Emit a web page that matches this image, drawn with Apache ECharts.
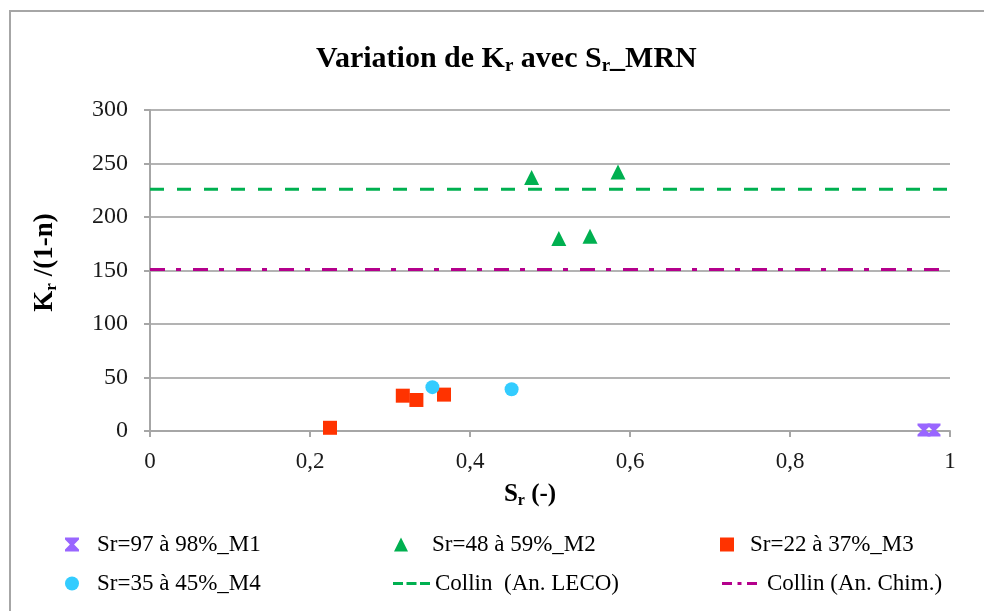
<!DOCTYPE html>
<html>
<head>
<meta charset="utf-8">
<script src="https://cdn.jsdelivr.net/npm/echarts@6/dist/echarts.min.js"></script>
<style>html,body{margin:0;padding:0;background:#fff;}#c{width:984px;height:611px;}</style>
</head>
<body>
<div id="c"></div>
<script>
// ---- data ----
const m1X = [0.9675, 0.98];
const m1Y = [1, 1];
const m2X = [0.477, 0.511, 0.55, 0.585];
const m2Y = [237, 180, 182, 242];
const m3X = [0.225, 0.316, 0.333, 0.3675];
const m3Y = [3, 33, 29, 34];
const m4X = [0.353, 0.452];
const m4Y = [41, 39];
const lineSpan = [0, 1];
const collinLeco = 226;
const collinChim = 151;
const names = ['Sr=97 à 98%_M1', 'Sr=48 à 59%_M2', 'Sr=22 à 37%_M3', 'Sr=35 à 45%_M4', 'Collin  (An. LECO)', 'Collin (An. Chim.)'];

const zip = (xs, ys) => xs.map((x, i) => [x, ys[i]]);
const FONT = 'Liberation Serif';
const hourglass = 'path://M0,0 L10,0 L10,1.5 L6.5,5 L10,8.5 L10,10 L0,10 L0,8.5 L3.5,5 L0,1.5 Z';
const dashIcon = 'path://M0,0h10v3h-10z M13.5,0h10v3h-10z M27,0h10v3h-10z';
const dashDotIcon = 'path://M0,0h10v3h-10z M15.5,0h4v3h-4z M25,0h10v3h-10z';

const chart = echarts.init(document.getElementById('c'), null, {renderer: 'canvas'});
function lg(name, left, top, w, h, pad, icon) {
  const o = {data: [name], left: left, top: top, itemWidth: w, itemHeight: h, selectedMode: false,
          symbolKeepAspect: false, padding: 0,
          textStyle: {fontFamily: FONT, fontSize: 23, color: '#000', padding: [0, 0, 0, pad]}};
  if (icon) o.icon = icon;
  return o;
}
chart.setOption({
  animation: false,
  backgroundColor: '#fff',
  title: {
    text: '{b|Variation de K}{s|r}{b| avec S}{s|r}{b|_MRN}',
    left: 311, top: 37,
    textStyle: {
      rich: {
        b: {fontFamily: FONT, fontSize: 30, fontWeight: 'bold', color: '#000'},
        s: {fontFamily: FONT, fontSize: 19, fontWeight: 'bold', color: '#000', padding: [15, 0, 0, 0]}
      }
    }
  },
  graphic: [{
    type: 'rect', shape: {x: 10, y: 11, width: 1000, height: 700},
    style: {fill: 'none', stroke: '#a6a6a6', lineWidth: 2}, silent: true
  }],
  grid: {left: 150, right: 34, top: 110, bottom: 180},
  xAxis: {
    type: 'value', min: 0, max: 1, interval: 0.2,
    name: '{b|S}{s|r}{b| (-)}', nameLocation: 'middle', nameGap: 50,
    nameTextStyle: {
      padding: [0, 40, 0, 0],
      rich: {
        b: {fontFamily: FONT, fontSize: 25, fontWeight: 'bold', color: '#000'},
        s: {fontFamily: FONT, fontSize: 16, fontWeight: 'bold', color: '#000', padding: [12, 0, 0, 0]}
      }
    },
    axisLine: {show: true, lineStyle: {color: '#a6a6a6', width: 2}},
    axisTick: {show: true, inside: false, length: 6, lineStyle: {color: '#a6a6a6', width: 2}},
    splitLine: {show: false},
    axisLabel: {
      fontFamily: FONT, fontSize: 23, color: '#1a1a1a', margin: 19,
      formatter: v => String(+v.toFixed(1)).replace('.', ',')
    }
  },
  yAxis: {
    type: 'value', min: 0, max: 300, interval: 50,
    name: '{b|K}{s|r}{b| /(1-n)}', nameLocation: 'middle', nameGap: 90,
    nameTextStyle: {
      padding: [0, 0, 0, 16],
      rich: {
        b: {fontFamily: FONT, fontSize: 27, fontWeight: 'bold', color: '#000'},
        s: {fontFamily: FONT, fontSize: 17, fontWeight: 'bold', color: '#000', padding: [13, 0, 0, 0]}
      }
    },
    axisLine: {show: true, lineStyle: {color: '#a6a6a6', width: 2}},
    axisTick: {show: true, length: 6, lineStyle: {color: '#a6a6a6', width: 2}},
    splitLine: {show: true, lineStyle: {color: '#b3b3b3', width: 2}},
    axisLabel: {fontFamily: FONT, fontSize: 24, color: '#1a1a1a', margin: 22}
  },
  legend: [
    lg(names[0], 65, 533, 14, 14, 13),
    lg(names[1], 394, 533, 14, 14, 19),
    lg(names[2], 720, 533, 14, 14, 11),
    lg(names[3], 65, 572, 14, 14, 13),
    lg(names[4], 393, 572, 37, 3, 0, dashIcon),
    lg(names[5], 722, 572, 35, 3, 5, dashDotIcon)
  ],
  series: [
    {name: names[0], type: 'scatter', data: zip(m1X, m1Y), symbol: hourglass, symbolSize: 13,
     itemStyle: {color: '#9966ff', opacity: 1}, z: 5},
    {name: names[1], type: 'scatter', data: zip(m2X, m2Y), symbol: 'triangle', symbolSize: 15,
     itemStyle: {color: '#00b050', opacity: 1}, z: 5},
    {name: names[2], type: 'scatter', data: zip(m3X, m3Y), symbol: 'rect', symbolSize: 14,
     itemStyle: {color: '#ff3300', opacity: 1}, z: 5},
    {name: names[3], type: 'scatter', data: zip(m4X, m4Y), symbol: 'circle', symbolSize: 14,
     itemStyle: {color: '#33ccff', opacity: 1}, z: 5},
    {name: names[4], type: 'line', data: lineSpan.map(x => [x, collinLeco]), symbol: 'none',
     lineStyle: {color: '#00b050', width: 3, type: [14, 13]}, itemStyle: {color: '#00b050'}, z: 3},
    {name: names[5], type: 'line', data: lineSpan.map(x => [x, collinChim]), symbol: 'none',
     lineStyle: {color: '#b4008c', width: 3, type: [15, 11, 5, 12]}, itemStyle: {color: '#b4008c'}, z: 3}
  ]
});
</script>
</body>
</html>
